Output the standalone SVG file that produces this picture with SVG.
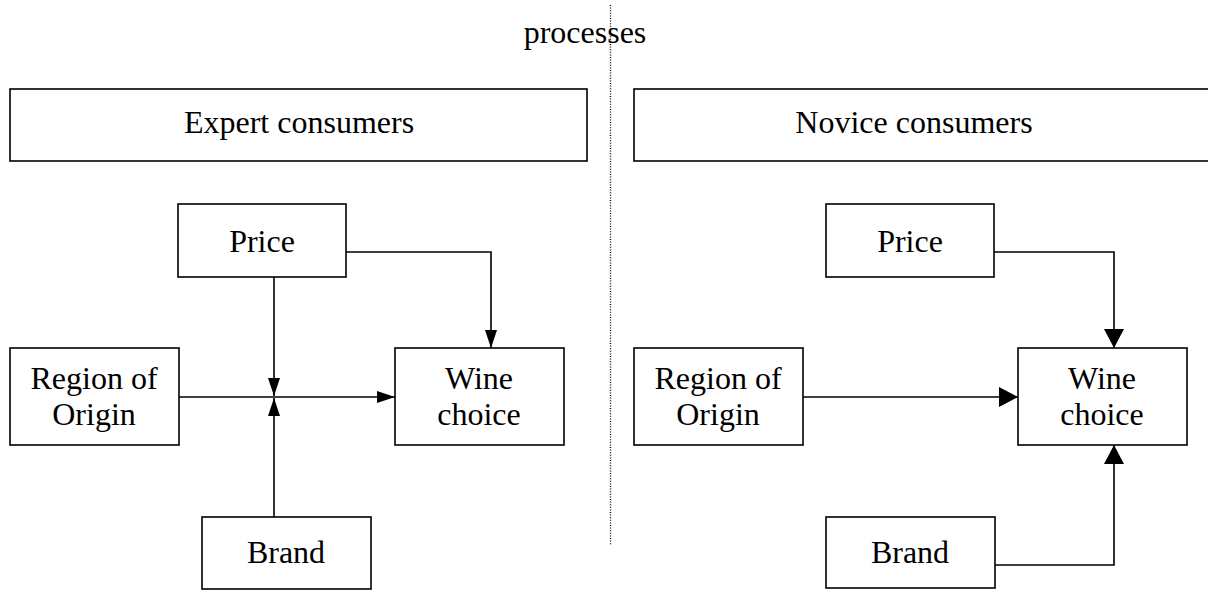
<svg xmlns="http://www.w3.org/2000/svg" width="1208" height="592" viewBox="0 0 1208 592">
<style>
.box{fill:#fff;stroke:#000;stroke-width:1.6}
.t{font-family:"Liberation Serif","Times New Roman",serif;font-size:32px;fill:#000;text-anchor:middle}
.ln{fill:none;stroke:#000;stroke-width:1.6}
</style>
<defs>
<marker id="aS" markerUnits="userSpaceOnUse" markerWidth="18" markerHeight="12" refX="18" refY="6" orient="auto">
<path d="M0,0 L18,6 L0,12 Z" fill="#000"/>
</marker>
<marker id="aL" markerUnits="userSpaceOnUse" markerWidth="19" markerHeight="20" refX="19" refY="10" orient="auto">
<path d="M0,0 L19,10 L0,20 Z" fill="#000"/>
</marker>
</defs>
<rect width="1208" height="592" fill="#fff"/>
<line x1="610.5" y1="5" x2="610.5" y2="545" stroke="#000" stroke-width="1.3" stroke-dasharray="1 1.6"/>
<text class="t" x="585" y="43">processes</text>
<g id="expert"><rect class="box" x="10" y="89" width="577" height="72"/><text class="t" x="299" y="133">Expert consumers</text></g>
<g id="novice"><rect class="box" x="634" y="89" width="590" height="72"/><text class="t" x="914" y="133">Novice consumers</text></g>
<g id="connectors">
<polyline class="ln" points="274,277 274,396" marker-end="url(#aS)"/>
<polyline class="ln" points="274,517 274,398" marker-end="url(#aS)"/>
<polyline class="ln" points="179,397 395,397" marker-end="url(#aS)"/>
<polyline class="ln" points="346,252 491,252 491,348" marker-end="url(#aS)"/>
<polyline class="ln" points="803,397 1018,397" marker-end="url(#aL)"/>
<polyline class="ln" points="994,252 1114,252 1114,348" marker-end="url(#aL)"/>
<polyline class="ln" points="995,565 1114,565 1114,445" marker-end="url(#aL)"/>
</g>
<g id="price-e"><rect class="box" x="178" y="204" width="168" height="73"/><text class="t" x="262" y="252">Price</text></g>
<g id="region-e"><rect class="box" x="10" y="348" width="169" height="97"/><text class="t" x="94" y="389">Region of</text><text class="t" x="94" y="425">Origin</text></g>
<g id="wine-e"><rect class="box" x="395" y="348" width="169" height="97"/><text class="t" x="479" y="389">Wine</text><text class="t" x="479" y="425">choice</text></g>
<g id="brand-e"><rect class="box" x="202" y="517" width="169" height="72"/><text class="t" x="286" y="563">Brand</text></g>
<g id="price-n"><rect class="box" x="826" y="204" width="168" height="73"/><text class="t" x="910" y="252">Price</text></g>
<g id="region-n"><rect class="box" x="634" y="348" width="169" height="97"/><text class="t" x="718" y="389">Region of</text><text class="t" x="718" y="425">Origin</text></g>
<g id="wine-n"><rect class="box" x="1018" y="348" width="169" height="97"/><text class="t" x="1102" y="389">Wine</text><text class="t" x="1102" y="425">choice</text></g>
<g id="brand-n"><rect class="box" x="826" y="517" width="169" height="71"/><text class="t" x="910" y="563">Brand</text></g>
</svg>
